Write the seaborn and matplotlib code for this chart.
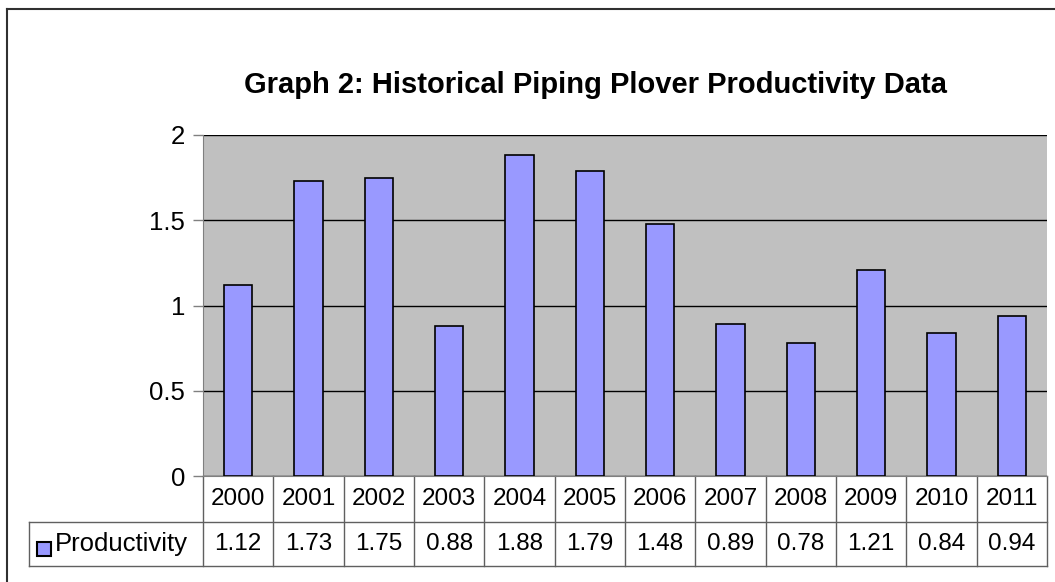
import matplotlib
matplotlib.use("Agg")
import matplotlib.pyplot as plt
import seaborn as sns
import pandas as pd
from matplotlib.lines import Line2D
from matplotlib.patches import Rectangle

years = ["2000", "2001", "2002", "2003", "2004", "2005",
         "2006", "2007", "2008", "2009", "2010", "2011"]
productivity = [1.12, 1.73, 1.75, 0.88, 1.88, 1.79,
                1.48, 0.89, 0.78, 1.21, 0.84, 0.94]
series_name = "Productivity"
title = "Graph 2: Historical Piping Plover Productivity Data"

df = pd.DataFrame({"year": years, "value": productivity})

plt.rcParams["font.family"] = ["Liberation Sans", "DejaVu Sans"]

W, H = 1055, 582
fig = plt.figure(figsize=(W / 100, H / 100), dpi=100)
left, right, top, bottom = 203, 1047, 135, 476
ax = fig.add_axes([left / W, 1 - bottom / H, (right - left) / W, (bottom - top) / H])

bar_color = "#9999FF"
sns.barplot(data=df, x="year", y="value", ax=ax, color=bar_color,
            width=0.4, edgecolor="black", linewidth=1.2, saturation=1, zorder=3)

ax.set_facecolor("#C0C0C0")
ax.set_ylim(0, 2)
ax.set_xlim(-0.5, len(years) - 0.5)
ax.set_yticks([0, 0.5, 1, 1.5, 2])
ax.set_yticklabels(["0", "0.5", "1", "1.5", "2"], fontsize=18.5)
ax.yaxis.grid(True, color="#000000", linewidth=1, zorder=1)
ax.set_axisbelow(True)
ax.tick_params(axis="y", length=7, width=1, color="#808080", pad=6)
ax.set_xticks([])
ax.set_xlabel("")
ax.set_ylabel("")
for side in ["top", "right"]:
    ax.spines[side].set_visible(False)
ax.spines["left"].set_color("#808080")
ax.spines["bottom"].set_color("#808080")

fig.text(595 / W, 1 - 85 / H, title, fontsize=21, fontweight="bold",
         ha="center", va="center")

# data table below the plot
px_w = right - left
px_h = bottom - top
y1 = -(522 - bottom) / px_h
y2 = -(566 - bottom) / px_h
x_leg = (29 - left) / px_w
tcol = "#606060"
trans = ax.transAxes
tx = ax.get_xaxis_transform()
n = len(years)
for i in range(n + 1):
    ax.add_line(Line2D([i - 0.5, i - 0.5], [0, y2], transform=tx, color=tcol,
                       lw=1, clip_on=False))
ax.add_line(Line2D([x_leg, 1], [y1, y1], transform=trans, color=tcol, lw=1, clip_on=False))
ax.add_line(Line2D([x_leg, 1], [y2, y2], transform=trans, color=tcol, lw=1, clip_on=False))
ax.add_line(Line2D([x_leg, x_leg], [y1, y2], transform=trans, color=tcol, lw=1, clip_on=False))
for i, (yr, v) in enumerate(zip(years, productivity)):
    ax.text(i, y1 / 2, yr, transform=tx, ha="center", va="center", fontsize=17.5, clip_on=False)
    ax.text(i, (y1 + y2) / 2, f"{v:.2f}", transform=tx, ha="center", va="center",
            fontsize=17.5, clip_on=False)

# legend key in the table
key_w = (51 - 37) / px_w
key_h = (556 - 542) / px_h
ax.add_patch(Rectangle(((37 - left) / px_w, -(556 - bottom) / px_h), key_w, key_h,
                       transform=trans, facecolor=bar_color, edgecolor="black",
                       lw=1.5, clip_on=False))
ax.text((55 - left) / px_w, (y1 + y2) / 2, series_name, transform=trans,
        ha="left", va="center", fontsize=18.5, clip_on=False)

# chart area border (top and left visible)
fig.add_artist(Line2D([6.5 / W, 1], [1 - 8.5 / H, 1 - 8.5 / H], color="#303030", lw=1.5))
fig.add_artist(Line2D([6.5 / W, 6.5 / W], [0, 1 - 8.5 / H], color="#303030", lw=1.5))

fig.savefig("out.png", dpi=100, facecolor="white")
